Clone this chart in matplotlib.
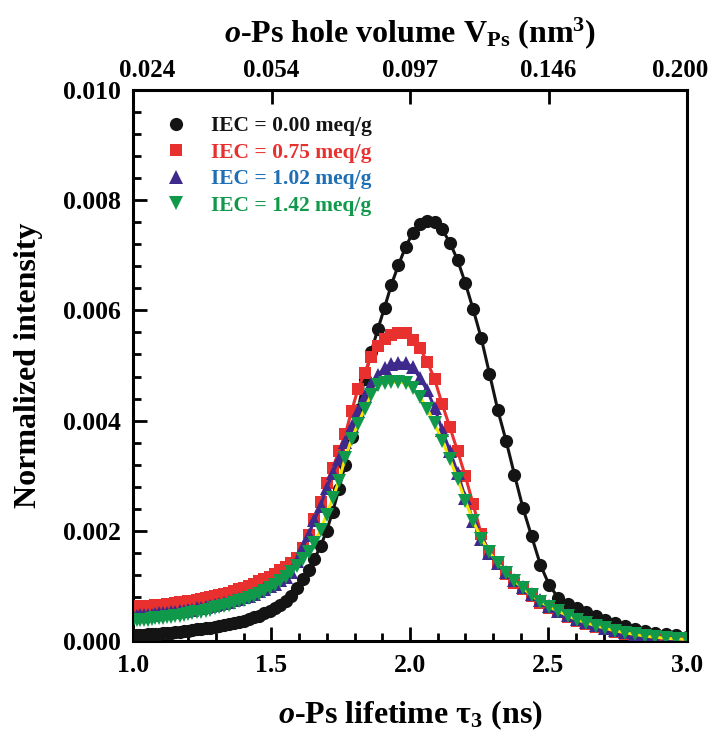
import numpy as np
import matplotlib
matplotlib.use("Agg")
import matplotlib.pyplot as plt
import matplotlib.transforms as mtransforms

plt.rcParams['font.family'] = ['Liberation Serif', 'DejaVu Serif']
plt.rcParams['font.weight'] = 'bold'
plt.rcParams['axes.labelweight'] = 'bold'
plt.rcParams['mathtext.fontset'] = 'custom'
plt.rcParams['mathtext.rm'] = 'Liberation Serif:bold'
plt.rcParams['mathtext.it'] = 'Liberation Serif:italic:bold'
plt.rcParams['mathtext.bf'] = 'Liberation Serif:bold'

# o-Ps lifetime grid (ns)
tau = [1.000, 1.013, 1.026, 1.040, 1.053, 1.067, 1.081, 1.095, 1.109, 1.123,
       1.138, 1.153, 1.168, 1.183, 1.198, 1.214, 1.230, 1.246, 1.262, 1.278,
       1.295, 1.312, 1.329, 1.346, 1.364, 1.381, 1.399, 1.418, 1.436, 1.455,
       1.474, 1.493, 1.512, 1.532, 1.552, 1.572, 1.593, 1.613, 1.634, 1.655,
       1.677, 1.699, 1.721, 1.743, 1.766, 1.789, 1.812, 1.836, 1.860, 1.884,
       1.908, 1.933, 1.958, 1.984, 2.010, 2.036, 2.062, 2.089, 2.116, 2.144,
       2.172, 2.200, 2.228, 2.257, 2.287, 2.317, 2.347, 2.377, 2.408, 2.439,
       2.471, 2.503, 2.536, 2.569, 2.602, 2.636, 2.670, 2.705, 2.740, 2.776,
       2.812, 2.849, 2.886, 2.923, 2.961, 3.000]

iec_000 = [0.00010, 0.00010, 0.00011, 0.00011, 0.00012, 0.00012, 0.00013, 0.00013, 0.00014, 0.00015,
           0.00015, 0.00016, 0.00017, 0.00018, 0.00019, 0.00020, 0.00021, 0.00022, 0.00023, 0.00024,
           0.00026, 0.00027, 0.00029, 0.00031, 0.00033, 0.00035, 0.00037, 0.00040, 0.00043, 0.00046,
           0.00050, 0.00054, 0.00059, 0.00065, 0.00072, 0.00082, 0.00097, 0.00112, 0.00129, 0.00149,
           0.00172, 0.00200, 0.00235, 0.00275, 0.00320, 0.00370, 0.00420, 0.00475, 0.00525, 0.00566,
           0.00605, 0.00647, 0.00682, 0.00715, 0.00741, 0.00757, 0.00763, 0.00761, 0.00747, 0.00723,
           0.00691, 0.00649, 0.00602, 0.00550, 0.00485, 0.00419, 0.00363, 0.00302, 0.00241, 0.00190,
           0.00138, 0.00101, 0.00078, 0.00068, 0.00060, 0.00052, 0.00045, 0.00038, 0.00032, 0.00027,
           0.00022, 0.00018, 0.00015, 0.00012, 0.00010, 0.00008]

iec_075 = [0.00062, 0.00062, 0.00063, 0.00063, 0.00064, 0.00064, 0.00065, 0.00066, 0.00066, 0.00067,
           0.00068, 0.00069, 0.00070, 0.00071, 0.00072, 0.00073, 0.00075, 0.00076, 0.00078, 0.00080,
           0.00082, 0.00084, 0.00086, 0.00088, 0.00091, 0.00094, 0.00097, 0.00100, 0.00104, 0.00108,
           0.00112, 0.00117, 0.00122, 0.00128, 0.00134, 0.00141, 0.00150, 0.00168, 0.00192, 0.00221,
           0.00253, 0.00287, 0.00314, 0.00344, 0.00375, 0.00417, 0.00457, 0.00487, 0.00516, 0.00536,
           0.00549, 0.00556, 0.00559, 0.00559, 0.00547, 0.00531, 0.00507, 0.00475, 0.00430, 0.00388,
           0.00344, 0.00299, 0.00248, 0.00194, 0.00160, 0.00139, 0.00121, 0.00106, 0.00094, 0.00081,
           0.00069, 0.00060, 0.00052, 0.00044, 0.00037, 0.00031, 0.00026, 0.00021, 0.00017, 0.00013,
           0.00010, 0.00008, 0.00006, 0.00004, 0.00003, 0.00002]

iec_102 = [0.00046, 0.00046, 0.00047, 0.00047, 0.00048, 0.00048, 0.00049, 0.00050, 0.00050, 0.00051,
           0.00052, 0.00053, 0.00054, 0.00055, 0.00056, 0.00057, 0.00059, 0.00060, 0.00062, 0.00063,
           0.00065, 0.00067, 0.00069, 0.00071, 0.00074, 0.00076, 0.00079, 0.00082, 0.00086, 0.00090,
           0.00094, 0.00099, 0.00104, 0.00110, 0.00117, 0.00126, 0.00145, 0.00170, 0.00193, 0.00220,
           0.00245, 0.00278, 0.00304, 0.00331, 0.00361, 0.00390, 0.00418, 0.00444, 0.00466, 0.00483,
           0.00495, 0.00502, 0.00505, 0.00504, 0.00497, 0.00477, 0.00455, 0.00423, 0.00383, 0.00345,
           0.00305, 0.00260, 0.00218, 0.00185, 0.00160, 0.00142, 0.00126, 0.00111, 0.00098, 0.00085,
           0.00074, 0.00064, 0.00055, 0.00047, 0.00040, 0.00034, 0.00029, 0.00024, 0.00020, 0.00016,
           0.00013, 0.00010, 0.00008, 0.00006, 0.00005, 0.00004]

iec_142 = [0.00037, 0.00038, 0.00038, 0.00039, 0.00039, 0.00040, 0.00041, 0.00041, 0.00042, 0.00043,
           0.00044, 0.00045, 0.00046, 0.00047, 0.00049, 0.00050, 0.00052, 0.00053, 0.00055, 0.00057,
           0.00059, 0.00061, 0.00063, 0.00066, 0.00069, 0.00072, 0.00075, 0.00078, 0.00082, 0.00086,
           0.00091, 0.00096, 0.00102, 0.00108, 0.00116, 0.00125, 0.00136, 0.00148, 0.00161, 0.00177,
           0.00202, 0.00229, 0.00259, 0.00290, 0.00332, 0.00366, 0.00394, 0.00421, 0.00447, 0.00464,
           0.00469, 0.00470, 0.00470, 0.00468, 0.00459, 0.00443, 0.00421, 0.00395, 0.00363, 0.00330,
           0.00294, 0.00254, 0.00218, 0.00186, 0.00161, 0.00142, 0.00124, 0.00109, 0.00096, 0.00083,
           0.00071, 0.00062, 0.00054, 0.00046, 0.00039, 0.00033, 0.00028, 0.00023, 0.00019, 0.00015,
           0.00012, 0.00009, 0.00007, 0.00005, 0.00004, 0.00003]

labels = ['IEC = 0.00 meq/g', 'IEC = 0.75 meq/g', 'IEC = 1.02 meq/g', 'IEC = 1.42 meq/g']
marker_colors = ['#141414', '#e8302e', '#3d2a8c', '#10994a']
line_colors = ['#141414', '#e8302e', '#3d2a8c', '#f2e600']
text_colors = ['#141414', '#e8302e', '#1f6fb6', '#10994a']
markers = ['o', 's', '^', 'v']
msizes = [9.5, 8.3, 9.5, 9.5]

top_pos = [1.0, 1.5, 2.0, 2.5, 3.0]
top_labels = ['0.024', '0.054', '0.097', '0.146', '0.200']

fig = plt.figure(figsize=(7.13, 7.34), dpi=100)
ax = fig.add_axes([133 / 713, 93 / 734, 554 / 713, 551 / 734])

series = [iec_000, iec_075, iec_102, iec_142]
handles = []
for i, y in enumerate(series):
    ax.plot(tau, y, '-', color=line_colors[i], lw=2.2, zorder=2 + 2 * i)
    h, = ax.plot(tau, y, linestyle='none', marker=markers[i], ms=msizes[i],
                 color=marker_colors[i], markeredgewidth=0, zorder=3 + 2 * i)
    handles.append(h)

ax.set_xlim(1.0, 3.0)
ax.set_ylim(0.0, 0.010)
ax.set_xticks([1.0, 1.5, 2.0, 2.5, 3.0])
ax.set_xticks(np.arange(1.0, 3.01, 0.1), minor=True)
ax.set_yticks([0.0, 0.002, 0.004, 0.006, 0.008, 0.010])
ax.set_yticks(np.arange(0.0, 0.01001, 0.0004), minor=True)
ax.set_xticklabels(['1.0', '1.5', '2.0', '2.5', '3.0'])
ax.set_yticklabels(['0.000', '0.002', '0.004', '0.006', '0.008', '0.010'])
ax.tick_params(which='both', direction='in', top=False, right=False, width=2, labelsize=18.5)
ax.tick_params(which='major', length=10, pad=9)
ax.tick_params(which='minor', length=6)
for s in ax.spines.values():
    s.set_linewidth(2.2)

ax.set_xlabel('$\\mathit{o}$-Ps lifetime τ$_{3}$ (ns)', fontsize=23, labelpad=16)
ax.set_ylabel('Normalized intensity', fontsize=23, labelpad=14)

ax2 = ax.twiny()
ax2.set_xlim(1.0, 3.0)
ax2.set_xticks(top_pos)
ax2.set_xticklabels(top_labels)
ax2.tick_params(direction='in', length=10, width=2, labelsize=18, pad=6)
ax2.set_xlabel('$\\mathit{o}$-Ps hole volume V$_{\\rm Ps}$ (nm$^{3}$)', fontsize=23, labelpad=12)
# nudge the end labels inward as in the original
tl = ax2.get_xticklabels()
tl[0].set_transform(tl[0].get_transform() + mtransforms.ScaledTranslation(0.14, 0, fig.dpi_scale_trans))
tl[-1].set_transform(tl[-1].get_transform() + mtransforms.ScaledTranslation(-0.07, 0, fig.dpi_scale_trans))

leg = ax.legend(handles, labels, loc='upper left', bbox_to_anchor=(0.043, 0.968),
                frameon=False, fontsize=15.5, handlelength=1.0, handletextpad=1.1,
                labelspacing=0.3, borderaxespad=0)
for t, c in zip(leg.get_texts(), text_colors):
    t.set_color(c)

fig.savefig('out.png', dpi=100)
